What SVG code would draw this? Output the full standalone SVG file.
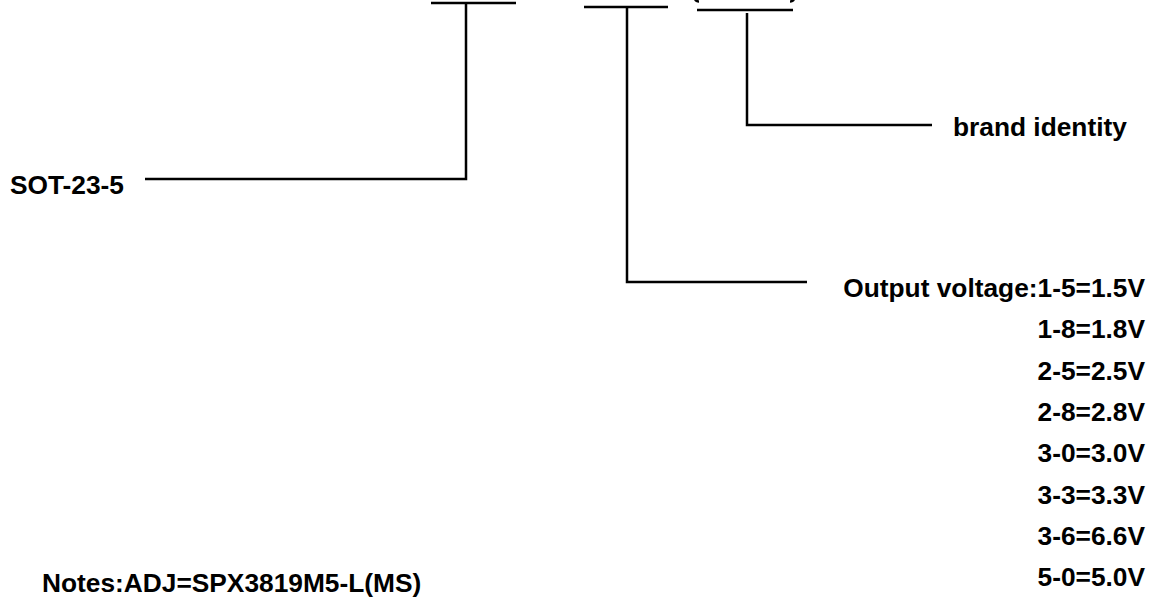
<svg xmlns="http://www.w3.org/2000/svg" width="1158" height="597" viewBox="0 0 1158 597">
<style>
.t{font-family:"Liberation Sans",Arial,sans-serif;font-weight:bold;font-size:26.3px;fill:#000}
.c{stroke:#000;stroke-width:2.5;fill:none}
</style>
<rect width="1158" height="597" fill="#fff"/>
<g id="connectors">
<path class="c" d="M431 3H516M466 3V179H145"/>
<path class="c" d="M584 7H668M627 7V282H807"/>
<path class="c" d="M697 10H793M747 13V125H932"/>
<path class="c" d="M695 -1Q696 1.5 699 1.5M794 -1Q793 1.5 790 1.5"/>
</g>
<g id="sot"><text class="t" x="10" y="194">SOT-23-5</text></g>
<g id="brand"><text class="t" x="953" y="136">brand identity</text></g>
<g id="voltage">
<text class="t" x="1145" y="297" text-anchor="end">Output voltage:1-5=1.5V</text>
<text class="t" x="1145" y="338" text-anchor="end">1-8=1.8V</text>
<text class="t" x="1145" y="380" text-anchor="end">2-5=2.5V</text>
<text class="t" x="1145" y="421" text-anchor="end">2-8=2.8V</text>
<text class="t" x="1145" y="462" text-anchor="end">3-0=3.0V</text>
<text class="t" x="1145" y="504" text-anchor="end">3-3=3.3V</text>
<text class="t" x="1145" y="545" text-anchor="end">3-6=6.6V</text>
<text class="t" x="1145" y="586" text-anchor="end">5-0=5.0V</text>
</g>
<g id="notes"><text class="t" x="42" y="592">Notes:ADJ=SPX3819M5-L(MS)</text></g>
</svg>
